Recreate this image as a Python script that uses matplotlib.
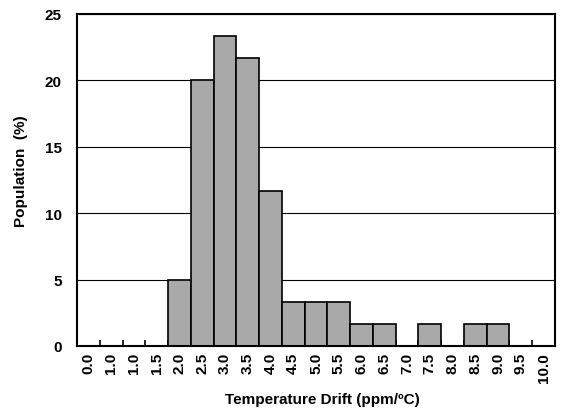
import numpy as np
import matplotlib
matplotlib.use("Agg")
import matplotlib.pyplot as plt

plt.rcParams['font.family'] = ['Liberation Sans', 'DejaVu Sans']

# bin labels as printed on the chart
bin_labels = ["0.0", "1.0", "1.0", "1.5", "2.0", "2.5", "3.0", "3.5", "4.0", "4.5",
              "5.0", "5.5", "6.0", "6.5", "7.0", "7.5", "8.0", "8.5", "9.0", "9.5", "10.0"]
# population per bin (%)
population = [0, 0, 0, 0, 5.0, 20.0, 23.33, 21.67, 11.67, 3.33,
              3.33, 3.33, 1.67, 1.67, 0, 1.67, 0, 1.67, 1.67, 0, 0]
y_ticks = [0, 5, 10, 15, 20, 25]

fig = plt.figure(figsize=(5.66, 4.14), dpi=100)
ax = fig.add_axes([77 / 566, 1 - 347 / 414, 478 / 566, 332 / 414])

x = np.arange(len(bin_labels))
ax.set_axisbelow(True)
ax.yaxis.grid(True, color='black', linewidth=0.8)
ax.bar(x, population, width=1.0, color='#A9A9A9', edgecolor='black', linewidth=1.2)

ax.set_xlim(-0.5, len(bin_labels) - 0.5)
ax.set_ylim(0, 25)
ax.set_yticks(y_ticks)
ax.set_yticklabels([str(v) for v in y_ticks], fontsize=11, fontweight='bold')
ax.tick_params(axis='y', length=0, pad=11)

ax.set_xticks(x)
ax.set_xticklabels(bin_labels, rotation=90, fontsize=11, fontweight='bold')
ax.tick_params(axis='x', which='major', length=0, pad=4.5)
ax.set_xticks(np.arange(-0.5, len(bin_labels)), minor=True)
ax.tick_params(axis='x', which='minor', direction='in', length=4, width=1.2)

for s in ax.spines.values():
    s.set_linewidth(1.5)

ax.set_xlabel("Temperature Drift (ppm/ºC)", fontsize=11, fontweight='bold')
ax.xaxis.set_label_coords(0.513, -0.138)
ax.set_ylabel("Population  (%)", fontsize=11, fontweight='bold')
ax.yaxis.set_label_coords(-0.102, 0.53)

fig.savefig("out.png", dpi=100)
